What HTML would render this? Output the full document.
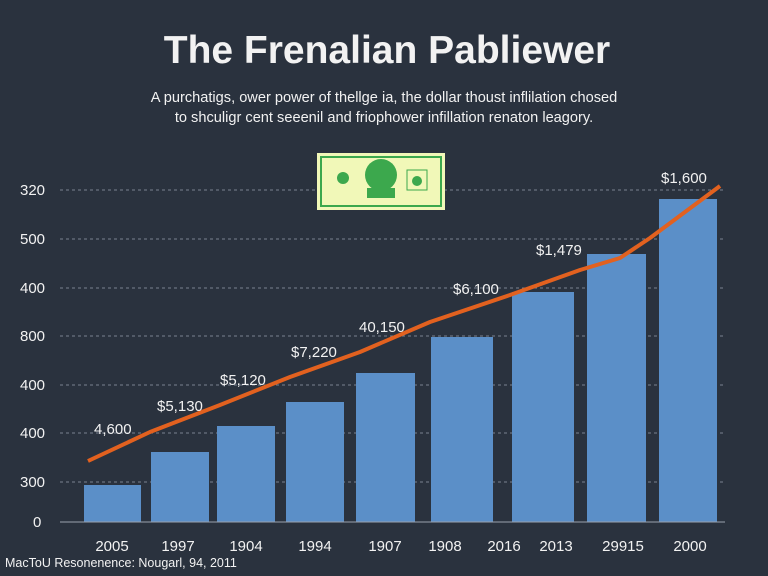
<!DOCTYPE html>
<html><head><meta charset="utf-8"><style>
html,body{margin:0;padding:0;background:#2a323e;}
svg{display:block}
text{font-family:"Liberation Sans",sans-serif;fill:#f2f2f2}
</style></head><body>
<svg width="768" height="576" viewBox="0 0 768 576">
<rect width="768" height="576" fill="#2a323e"/>
<text x="387" y="63" text-anchor="middle" font-size="39" font-weight="bold">The Frenalian Pabliewer</text>
<text x="384" y="102" text-anchor="middle" font-size="14.6">A purchatigs, ower power of thellge ia, the dollar thoust inflilation chosed</text>
<text x="384" y="122" text-anchor="middle" font-size="14.6">to shculigr cent seeenil and friophower infillation renaton leagory.</text>
<g stroke="#7a8290" stroke-dasharray="3,3" stroke-width="1">
<line x1="60" y1="190" x2="725" y2="190"/><line x1="60" y1="239" x2="725" y2="239"/>
<line x1="60" y1="288" x2="725" y2="288"/><line x1="60" y1="336" x2="725" y2="336"/>
<line x1="60" y1="385" x2="725" y2="385"/><line x1="60" y1="433" x2="725" y2="433"/>
<line x1="60" y1="482" x2="725" y2="482"/>
</g>
<g font-size="15">
<text x="20" y="195">320</text><text x="20" y="244">500</text><text x="20" y="293">400</text>
<text x="20" y="341">800</text><text x="20" y="390">400</text><text x="20" y="438">400</text>
<text x="20" y="487">300</text><text x="33" y="527">0</text>
</g>
<g>
<rect x="317" y="153" width="128" height="57" fill="#f1f8b8"/>
<rect x="321" y="157" width="120" height="49" fill="none" stroke="#3ca84d" stroke-width="2"/>
<circle cx="381" cy="175" r="16" fill="#3ca84d"/>
<rect x="367" y="188" width="28" height="10" fill="#3ca84d"/>
<circle cx="343" cy="178" r="6" fill="#3ca84d"/>
<rect x="407" y="170" width="20" height="20" fill="none" stroke="#3ca84d"/>
<circle cx="417" cy="181" r="5" fill="#3ca84d"/>
</g>
<g fill="#5b8fc8">
<rect x="84" y="485" width="57" height="37"/>
<rect x="151" y="452" width="58" height="70"/>
<rect x="217" y="426" width="58" height="96"/>
<rect x="286" y="402" width="58" height="120"/>
<rect x="356" y="373" width="59" height="149"/>
<rect x="431" y="337" width="62" height="185"/>
<rect x="512" y="292" width="62" height="230"/>
<rect x="587" y="254" width="59" height="268"/>
<rect x="659" y="199" width="58" height="323"/>
</g>
<line x1="60" y1="522" x2="725" y2="522" stroke="#9aa2ae" stroke-width="1"/>
<polyline points="88,461 150,432 220,405 290,377 360,352 430,322 510,295 580,270 620,258 650,238 720,186" fill="none" stroke="#e2611f" stroke-width="4" stroke-linejoin="round"/>
<g font-size="15">
<text x="94" y="434">4,600</text><text x="157" y="411">$5,130</text><text x="220" y="385">$5,120</text>
<text x="291" y="357">$7,220</text><text x="359" y="332">40,150</text><text x="453" y="294">$6,100</text>
<text x="536" y="255">$1,479</text><text x="661" y="183">$1,600</text>
</g>
<g font-size="15" text-anchor="middle">
<text x="112" y="551">2005</text><text x="178" y="551">1997</text><text x="246" y="551">1904</text>
<text x="315" y="551">1994</text><text x="385" y="551">1907</text><text x="445" y="551">1908</text>
<text x="504" y="551">2016</text><text x="556" y="551">2013</text><text x="623" y="551">29915</text>
<text x="690" y="551">2000</text>
</g>
<text x="5" y="567" font-size="12.5" fill="#d8d8d8">MacToU Resonenence: Nougarl, 94, 2011</text>
</svg>
</body></html>
